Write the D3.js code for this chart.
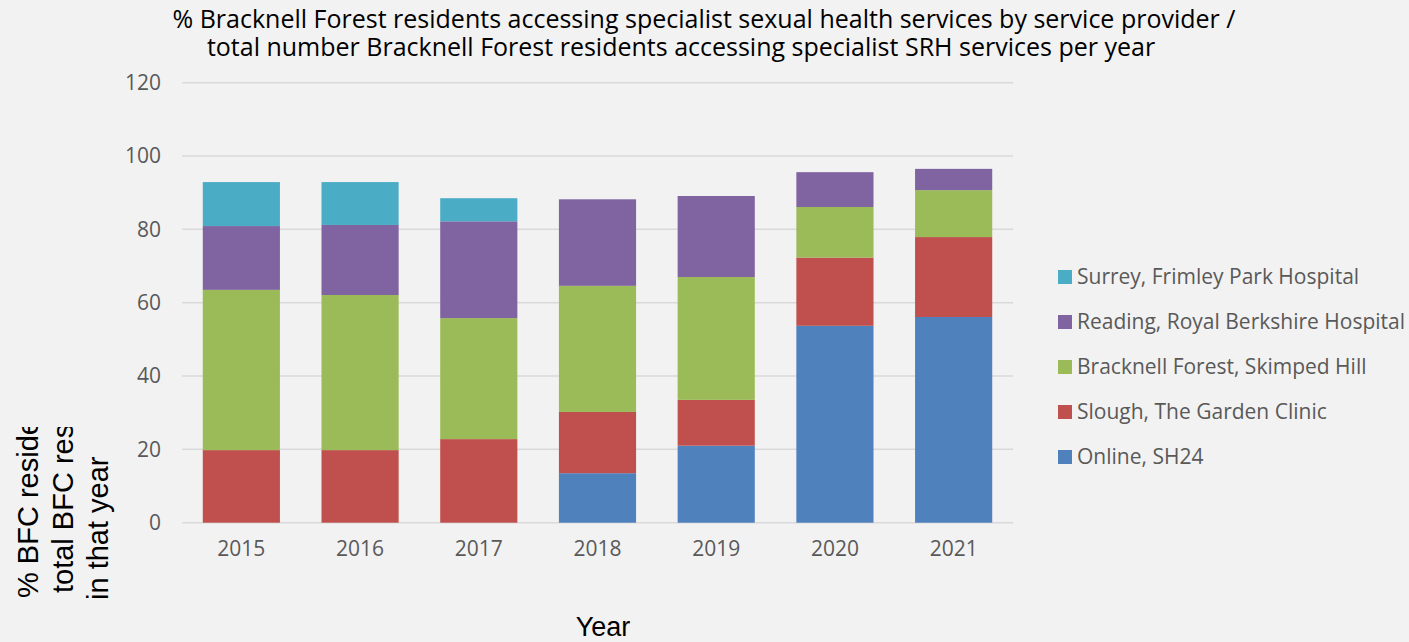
<!DOCTYPE html>
<html>
<head>
<meta charset="utf-8">
<script src="https://cdn.jsdelivr.net/npm/d3@7"></script>
<style>
  html, body { margin: 0; padding: 0; background: #f2f2f2; }
  svg { display: block; }
</style>
</head>
<body>
<div id="chart"></div>
<script>
// values (% of residents per year)
const years = ["2015", "2016", "2017", "2018", "2019", "2020", "2021"];
const online    = [0, 0, 0, 13.5, 21.0, 53.7, 56.1];
const slough    = [19.8, 19.8, 22.8, 16.7, 12.5, 18.6, 21.8];
const bracknell = [43.7, 42.3, 33.0, 34.4, 33.5, 13.8, 12.8];
const reading   = [17.4, 19.1, 26.4, 23.6, 22.1, 9.5, 5.8];
const surrey    = [12.0, 11.7, 6.3, 0, 0, 0, 0];

const seriesNames = ["Online, SH24", "Slough, The Garden Clinic", "Bracknell Forest, Skimped Hill",
                     "Reading, Royal Berkshire Hospital", "Surrey, Frimley Park Hospital"];
const seriesValues = [online, slough, bracknell, reading, surrey];
const colors = ["#4f81bd", "#c0504d", "#9bbb59", "#8064a2", "#4bacc6"];
const yTicks = [0, 20, 40, 60, 80, 100, 120];

const W = 1409, H = 642;
const plot = {left: 182, right: 1013, top: 82.7, bottom: 522.7};

const svg = d3.select("#chart").append("svg")
    .attr("width", W)
    .attr("height", H);

svg.append("rect").attr("width", W).attr("height", H).attr("fill", "#f2f2f2");

const x = d3.scaleBand()
    .domain(years)
    .range([plot.left, plot.right])
    .paddingInner(0.35)
    .paddingOuter(0.175);

const y = d3.scaleLinear()
    .domain([0, 120])
    .range([plot.bottom, plot.top]);

// gridlines
svg.append("g")
    .selectAll("line")
    .data(yTicks)
    .join("line")
    .attr("x1", plot.left)
    .attr("x2", plot.right)
    .attr("y1", d => y(d))
    .attr("y2", d => y(d))
    .attr("stroke", "#d9d9d9")
    .attr("stroke-width", 1.5);

// stack the data
const table = years.map((yr, i) => {
    const row = {year: yr};
    seriesNames.forEach((s, j) => { row[s] = seriesValues[j][i]; });
    return row;
});
const stacked = d3.stack().keys(seriesNames)(table);

svg.append("g")
    .selectAll("g")
    .data(stacked)
    .join("g")
    .attr("fill", (d, i) => colors[i])
    .selectAll("rect")
    .data(d => d)
    .join("rect")
    .attr("x", d => x(d.data.year))
    .attr("width", x.bandwidth())
    .attr("y", d => y(d[1]))
    .attr("height", d => y(d[0]) - y(d[1]));

// axes
const yAxis = svg.append("g")
    .attr("transform", `translate(${plot.left - 21}, 0)`)
    .call(d3.axisLeft(y).tickValues(yTicks).tickSize(0).tickPadding(0));
yAxis.select(".domain").remove();
yAxis.selectAll("text")
    .attr("font-family", "Open Sans")
    .attr("font-size", 21)
    .attr("fill", "#595959");

const xAxis = svg.append("g")
    .attr("transform", `translate(0, ${plot.bottom})`)
    .call(d3.axisBottom(x).tickSize(0).tickPadding(18));
xAxis.select(".domain").remove();
xAxis.selectAll("text")
    .attr("font-family", "Open Sans")
    .attr("font-size", 21)
    .attr("fill", "#595959");

// title
svg.append("text")
    .attr("x", 704).attr("y", 28)
    .attr("text-anchor", "middle")
    .attr("font-family", "Open Sans")
    .attr("font-size", 25)
    .attr("fill", "#000")
    .text("% Bracknell Forest residents accessing specialist sexual health services by service provider /");
svg.append("text")
    .attr("x", 681).attr("y", 56)
    .attr("text-anchor", "middle")
    .attr("font-family", "Open Sans")
    .attr("font-size", 25)
    .attr("fill", "#000")
    .text("total number Bracknell Forest residents accessing specialist SRH services per year");

// x axis title
svg.append("text")
    .attr("x", 603).attr("y", 636)
    .attr("text-anchor", "middle")
    .attr("font-family", "Liberation Sans, Arial")
    .attr("font-size", 27)
    .attr("fill", "#000")
    .text("Year");

// y axis title, clipped like in the original
svg.append("clipPath").attr("id", "ylab-clip")
    .append("rect").attr("x", 0).attr("y", 427).attr("width", 140).attr("height", H - 427);

const ylab = [
    {t: "% BFC residents accessing service", x: 38, y: 598},
    {t: "total BFC residents accessing services", x: 73, y: 593},
    {t: "in that year", x: 108, y: 600}
];
svg.append("g")
    .attr("clip-path", "url(#ylab-clip)")
    .selectAll("text")
    .data(ylab)
    .join("text")
    .attr("transform", d => `translate(${d.x}, ${d.y}) rotate(-90)`)
    .attr("font-family", "Liberation Sans, Arial")
    .attr("font-size", 29)
    .attr("fill", "#000")
    .text(d => d.t);

// legend, reversed so it matches the stacking order
const legendItems = seriesNames.map((s, i) => ({name: s, color: colors[i]})).reverse();
const legend = svg.append("g")
    .selectAll("g")
    .data(legendItems)
    .join("g")
    .attr("transform", (d, i) => `translate(1058, ${277 + i * 45})`);
legend.append("rect")
    .attr("x", 0).attr("y", -7)
    .attr("width", 14).attr("height", 14)
    .attr("fill", d => d.color);
legend.append("text")
    .attr("x", 19).attr("y", 0)
    .attr("dy", "0.35em")
    .attr("font-family", "Open Sans")
    .attr("font-size", 21)
    .attr("fill", "#595959")
    .text(d => d.name);
</script>
</body>
</html>
